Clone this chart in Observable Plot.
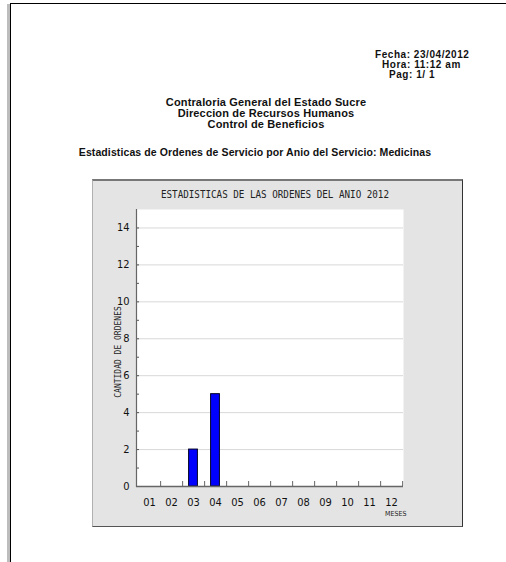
<!DOCTYPE html>
<html>
<head>
<meta charset="utf-8">
<script src="https://cdn.jsdelivr.net/npm/d3@7"></script>
<script src="https://cdn.jsdelivr.net/npm/@observablehq/plot@0.6"></script>
<style>
  html, body { margin: 0; padding: 0; background: #fff; }
  #page { position: relative; width: 506px; height: 562px; overflow: hidden; font-family: "Liberation Sans", Arial, sans-serif; }
  .hdr { position: absolute; font-weight: bold; font-size: 11px; line-height: 11px; color: #111; white-space: nowrap; letter-spacing: 0.15px; }
  .small { font-size: 10px; line-height: 10px; letter-spacing: 0.55px; }
  .ctr { transform: translateX(-50%); text-align: center; }
  #shadow { position: absolute; left: 7px; top: 4px; width: 3px; height: 560px; background: #bdbdbd; }
  #border { position: absolute; left: 10px; top: 3px; width: 500px; height: 570px; border-left: 1.5px solid #000; border-top: 1.5px solid #000; }
  #panel { position: absolute; left: 92px; top: 179px; background: #e4e4e4; border-top: 2px solid #777; border-right: 1px solid #333; border-bottom: 1.5px solid #555; border-left: 1px solid #b0b0b0; line-height: 0; }
</style>
</head>
<body>
<div id="page">
  <div id="shadow"></div>
  <div id="border"></div>
  <div class="hdr small" style="left:375px; top:50px;">Fecha: 23/04/2012</div>
  <div class="hdr small" style="left:382px; top:60px;">Hora: 11:12 am</div>
  <div class="hdr small" style="left:389px; top:70px;">Pag: 1/ 1</div>
  <div class="hdr ctr" style="left:266px; top:97px;">Contraloria General del Estado Sucre</div>
  <div class="hdr ctr" style="left:266px; top:108px;">Direccion de Recursos Humanos</div>
  <div class="hdr ctr" style="left:266px; top:119px;">Control de Beneficios</div>
  <div class="hdr ctr" style="left:255px; top:147px; font-size:10.5px; letter-spacing:0.1px;">Estadisticas de Ordenes de Servicio por Anio del Servicio: Medicinas</div>
  <div id="panel"></div>
</div>
<script>
const months = ["01","02","03","04","05","06","07","08","09","10","11","12"];
const counts = [0, 0, 2, 5, 0, 0, 0, 0, 0, 0, 0, 0];
const yLabelTicks = [0, 2, 4, 6, 8, 10, 12, 14];
const yMinorTicks = [0,1,2,3,4,5,6,7,8,9,10,11,12,13,14];
const chartTitle = "ESTADISTICAS DE LAS ORDENES DEL ANIO 2012";
const yLabel = "CANTIDAD DE ORDENES";
const xLabel = "MESES";

const data = months.map((m, i) => ({month: m, count: counts[i]}));

const W = 369, H = 345;
const mL = 43, mR = 59, mT = 28, mB = 40;
const step = (W - mL - mR) / months.length;
const condensed = '"DejaVu Sans Condensed", "Liberation Sans Narrow", "DejaVu Sans", sans-serif';
const mono = '"DejaVu Sans Mono", monospace';

const chart = Plot.plot({
  width: W,
  height: H,
  marginLeft: mL,
  marginRight: mR,
  marginTop: mT,
  marginBottom: mB,
  style: {background: "transparent", fontFamily: condensed, fontSize: "11px", color: "#111", overflow: "visible"},
  x: {type: "band", domain: months, padding: 0, label: null},
  y: {domain: [0, 15], label: null},
  marks: [
    Plot.frame({fill: "white", stroke: null}),
    Plot.gridY({ticks: yLabelTicks.filter(d => d > 0), stroke: "#d8d8d8", strokeOpacity: 1}),
    Plot.axisY({ticks: yMinorTicks, tickSize: -3, tickFormat: () => "", stroke: "#555"}),
    Plot.axisY({ticks: yLabelTicks, tickSize: 0, tickPadding: 7, fontSize: 11, label: null}),
    Plot.axisX({tickSize: -5, tickFormat: () => "", dx: step / 2, stroke: "#666"}),
    Plot.axisX({tickSize: 0, tickPadding: 12, fontSize: 11, label: null}),
    Plot.barY(data.filter(d => d.count > 0), {x: "month", y: "count", fill: "#0000ff", stroke: "#000022", strokeWidth: 1, insetLeft: 6.6, insetRight: 6.6}),
    Plot.ruleY([0], {stroke: "#666", strokeWidth: 1.5}),
    Plot.frame({anchor: "left", stroke: "#666", strokeWidth: 1.2}),
    Plot.text([chartTitle], {frameAnchor: "top", dy: -19, dx: 5, fontFamily: mono, fontSize: 11, fill: "#222", className: "ctitle"}),
    Plot.text([yLabel], {frameAnchor: "left", textAnchor: "middle", rotate: -90, dx: -18, dy: 4, fontFamily: mono, fontSize: 8, fill: "#222", style: {letterSpacing: "1px"}}),
    Plot.text([xLabel], {frameAnchor: "bottom-right", textAnchor: "end", dx: 3, dy: 29, fontFamily: condensed, fontSize: 7, fill: "#222"})
  ]
});
document.getElementById("panel").appendChild(chart);
d3.select(chart).selectAll(".ctitle text").attr("textLength", 228).attr("lengthAdjust", "spacingAndGlyphs");
</script>
</body>
</html>
